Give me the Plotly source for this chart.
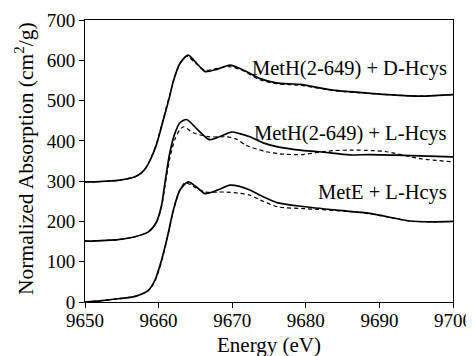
import plotly.graph_objects as go

# MetE + L-Hcys
mete_x_solid = [9650, 9652, 9654.5, 9656.8, 9658.6, 9659.5, 9660.4, 9661.3, 9662, 9662.9, 9664, 9665.2, 9666.3, 9668, 9669.7, 9671, 9672.4, 9674.2, 9676.2, 9679.6, 9684.2, 9688.7, 9694.1, 9697, 9700]
mete_y_solid = [0, 3, 8, 14, 29, 54, 104, 170, 228, 278, 298, 285, 269, 278, 290, 287, 278, 261, 246, 237, 228, 220, 201, 199, 200]
mete_x_dash = [9650, 9652, 9654.5, 9656.8, 9658.6, 9659.5, 9660.4, 9661.3, 9662, 9662.8, 9663.6, 9665, 9666.3, 9668, 9669.2, 9671, 9672.4, 9674.2, 9676.2, 9679.6, 9684.2, 9688.7, 9694.1, 9697, 9700]
mete_y_dash = [0, 3, 8, 14, 28, 52, 100, 168, 226, 274, 296, 284, 273, 273, 273, 270, 265, 250, 236, 232, 227, 219, 201, 199, 200]

# MetH(2-649) + L-Hcys
lh_x_solid = [9650, 9654.5, 9656.8, 9658.6, 9659.7, 9660.4, 9660.9, 9661.5, 9662.2, 9662.9, 9663.8, 9665.3, 9666.9, 9668.5, 9669.9, 9671, 9672.4, 9674.2, 9676.2, 9679.2, 9681.9, 9686, 9688.7, 9693.2, 9700]
lh_y_solid = [151, 155, 162, 174, 198, 240, 300, 368, 418, 445, 453, 428, 403, 412, 422, 418, 410, 395, 385, 377, 373, 365, 366, 364, 360]
lh_x_dash = [9650, 9654.5, 9656.8, 9658.6, 9659.7, 9660.4, 9660.9, 9661.5, 9662.2, 9662.9, 9663.4, 9664.7, 9666.9, 9669.2, 9670.5, 9671.9, 9674.6, 9677, 9679.6, 9681.9, 9684, 9686.4, 9689, 9691, 9695.5, 9700]
lh_y_dash = [151, 155, 162, 174, 197, 236, 292, 355, 403, 428, 435, 420, 410, 410, 405, 389, 373, 367, 366, 372, 376, 377, 376, 373, 356, 348]

# MetH(2-649) + D-Hcys
dh_x_solid = [9650, 9652, 9654.5, 9656.8, 9657.7, 9658.3, 9658.8, 9659.7, 9660.2, 9661, 9661.5, 9662, 9662.9, 9664, 9665.2, 9666.3, 9668, 9669.7, 9671.5, 9673.7, 9676, 9679.2, 9683.7, 9686, 9690, 9695.5, 9698, 9700]
dh_y_solid = [298, 299, 302, 311, 321, 334, 350, 390, 422, 476, 510, 548, 592, 613, 592, 572, 578, 588, 576, 555, 544, 540, 526, 522, 516, 511, 513, 515]
dh_x_dash = [9650, 9652, 9654.5, 9656.8, 9657.7, 9658.3, 9658.8, 9659.7, 9660.2, 9661, 9661.5, 9662, 9662.9, 9663.8, 9665.2, 9666.3, 9668, 9669.7, 9671.5, 9673.7, 9676, 9679.2, 9683.7, 9686, 9690, 9695.5, 9698, 9700]
dh_y_dash = [298, 299, 302, 311, 321, 334, 351, 392, 425, 480, 513, 548, 592, 610, 590, 575, 580, 584, 574, 552, 542, 538, 525, 521, 516, 511, 513, 515]

labels = ["MetH(2-649) + D-Hcys", "MetH(2-649) + L-Hcys", "MetE + L-Hcys"]
label_y = [580, 419, 273]

x_ticks = [9650, 9660, 9670, 9680, 9690, 9700]
y_ticks = [0, 100, 200, 300, 400, 500, 600, 700]

x_title = "Energy (eV)"
y_title = "Normalized Absorption (cm<sup>2</sup>/g)"

FONT = "Liberation Serif"

fig = go.Figure()
series = [
    (dh_x_solid, dh_y_solid, dh_x_dash, dh_y_dash),
    (lh_x_solid, lh_y_solid, lh_x_dash, lh_y_dash),
    (mete_x_solid, mete_y_solid, mete_x_dash, mete_y_dash),
]
for xs, ys, xd, yd in series:
    fig.add_trace(go.Scatter(x=xd, y=yd, mode="lines",
                             line=dict(color="black", width=1.2, dash="4px,3px", shape="spline", smoothing=0.7),
                             showlegend=False, hoverinfo="skip"))
    fig.add_trace(go.Scatter(x=xs, y=ys, mode="lines",
                             line=dict(color="black", width=1.7, shape="spline", smoothing=0.7),
                             showlegend=False, hoverinfo="skip"))

for txt, yv in zip(labels, label_y):
    fig.add_annotation(x=9699.5, y=yv, text=txt, showarrow=False, xanchor="right", yanchor="middle",
                       font=dict(family=FONT, size=20.5, color="black"))

# axis titles placed as annotations for precise placement
fig.add_annotation(x=0.5, y=0, xref="paper", yref="paper", text=x_title, showarrow=False,
                   xanchor="center", yanchor="middle", yshift=-43,
                   font=dict(family=FONT, size=21, color="black"))
fig.add_annotation(x=0, y=0.5, xref="paper", yref="paper", text=y_title, showarrow=False,
                   xanchor="center", yanchor="middle", xshift=-61, yshift=2, textangle=-90,
                   font=dict(family=FONT, size=21.5, color="black"))

# the page body adds an 8px offset; margins compensate so the plot area lands where the reference has it
fig.update_layout(
    width=474, height=356,
    margin=dict(l=77, r=29, t=12, b=62),
    paper_bgcolor="white", plot_bgcolor="white",
    font=dict(family=FONT, color="black"),
)
fig.update_xaxes(range=[9650, 9700], tickvals=x_ticks, ticktext=[str(v) for v in x_ticks],
                 showgrid=False, zeroline=False, showline=True, linecolor="black", linewidth=1,
                 mirror=True, ticks="outside", ticklen=5, tickcolor="black", tickwidth=1,
                 automargin=False, ticklabelstandoff=-4,
                 tickfont=dict(family=FONT, size=19, color="black"))
fig.update_yaxes(range=[0, 700], tickvals=y_ticks, ticktext=[str(v) for v in y_ticks],
                 showgrid=False, zeroline=False, showline=True, linecolor="black", linewidth=1,
                 mirror=True, ticks="outside", ticklen=5, tickcolor="black", tickwidth=1,
                 automargin=False,
                 tickfont=dict(family=FONT, size=19, color="black"))

fig.write_html("out.html")
